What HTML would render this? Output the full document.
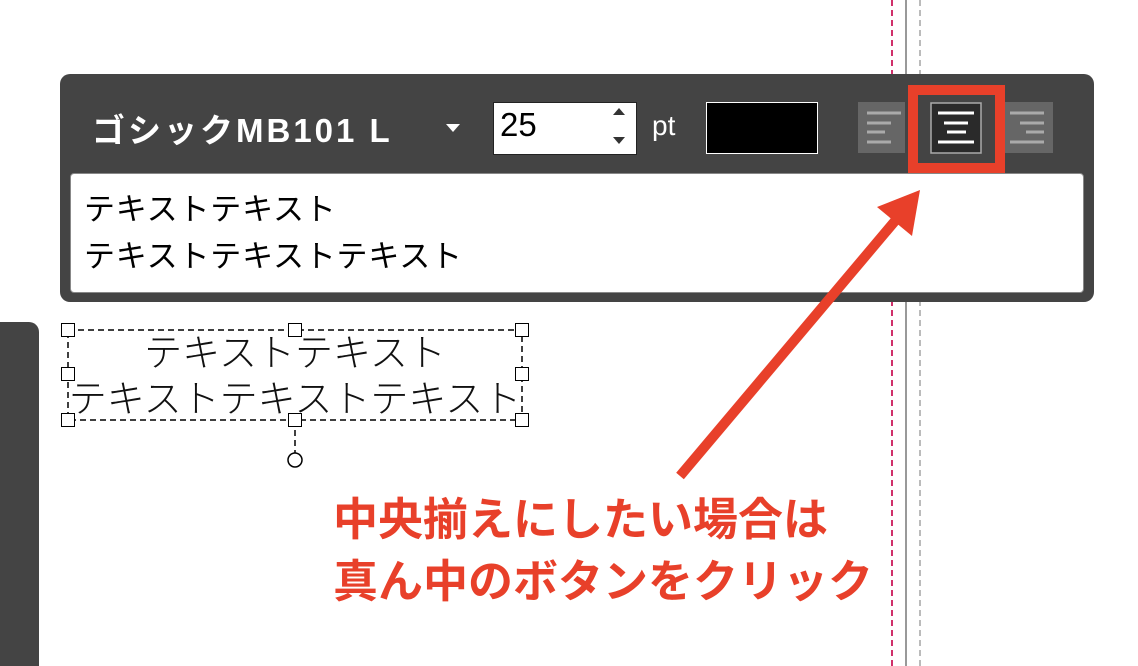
<!DOCTYPE html>
<html><head><meta charset="utf-8"><style>
body{margin:0;width:1138px;height:666px;background:#fff;position:relative;overflow:hidden;font-family:"Liberation Sans","Noto Sans CJK JP",sans-serif}
.a{position:absolute}
.h{position:absolute;width:12px;height:12px;border:1.5px solid #000;background:#fff}
</style></head><body>
<div class="a" style="left:891px;top:0;height:666px;border-left:2px dashed #d0306a"></div>
<div class="a" style="left:905px;top:0;height:666px;border-left:2px solid #999"></div>
<div class="a" style="left:919px;top:0;height:666px;border-left:2px dashed #bbb"></div>
<div class="a" style="left:0;top:322px;width:39px;height:344px;background:#444;border-radius:0 10px 0 0"></div>
<div class="a" style="left:60px;top:74px;width:1034px;height:228px;background:#444;border-radius:10px"></div>
<div class="a" style="left:92px;top:104px;color:#fff;font-size:33px;font-weight:bold;letter-spacing:3px">ゴシックMB101 L</div>
<div class="a" style="left:446px;top:124px;width:0;height:0;border-left:7px solid transparent;border-right:7px solid transparent;border-top:8px solid #fff"></div>
<div class="a" style="left:493px;top:102px;width:142px;height:51px;background:#fff;border:1px solid #222"></div>
<div class="a" style="left:500px;top:106px;font-size:33px;color:#000">25</div>
<div class="a" style="left:613px;top:108px;width:0;height:0;border-left:6px solid transparent;border-right:6px solid transparent;border-bottom:7px solid #333"></div>
<div class="a" style="left:613px;top:137px;width:0;height:0;border-left:6px solid transparent;border-right:6px solid transparent;border-top:7px solid #333"></div>
<div class="a" style="left:652px;top:110px;color:#fff;font-size:28px">pt</div>
<div class="a" style="left:706px;top:102px;width:110px;height:50px;background:#000;border:1px solid #fff"></div>
<svg class="a" style="left:0;top:0" width="1138" height="666">
<rect x="858" y="102" width="47" height="51" fill="#666"/>
<g stroke="#aaa" stroke-width="3"><line x1="867" y1="113" x2="901" y2="113"/><line x1="867" y1="123" x2="891" y2="123"/><line x1="867" y1="132" x2="885" y2="132"/><line x1="867" y1="142" x2="891" y2="142"/></g>
<rect x="1003" y="102" width="50" height="51" fill="#666"/>
<g stroke="#aaa" stroke-width="3"><line x1="1010" y1="113" x2="1044" y2="113"/><line x1="1020" y1="123" x2="1044" y2="123"/><line x1="1026" y1="132" x2="1044" y2="132"/><line x1="1010" y1="142" x2="1044" y2="142"/></g>
<rect x="931" y="103" width="50" height="50" fill="#2a2a2a" stroke="#aaa" stroke-width="1.5"/>
<g stroke="#fff" stroke-width="3"><line x1="938" y1="113" x2="974" y2="113"/><line x1="944" y1="123" x2="968" y2="123"/><line x1="947" y1="132" x2="966" y2="132"/><line x1="938" y1="142" x2="974" y2="142"/></g>
<rect x="913" y="90" width="87" height="78" fill="none" stroke="#e8402a" stroke-width="10"/>
<rect x="68" y="330" width="454" height="90" fill="none" stroke="#000" stroke-width="1.5" stroke-dasharray="6,4"/>
<line x1="295" y1="420" x2="295" y2="453" stroke="#000" stroke-width="1.5" stroke-dasharray="6,4"/>
<circle cx="295" cy="460" r="7" fill="#fff" stroke="#000" stroke-width="1.5"/>
</svg>
<div class="a" style="left:70px;top:173px;width:1012px;height:118px;background:#fff;border-radius:4px;border:1px solid #888"></div>
<div class="a" style="left:84px;top:186px;font-size:31px;line-height:47px;letter-spacing:0.8px;color:#000">テキストテキスト<br>テキストテキストテキスト</div>
<div class="a" style="left:40px;top:331px;width:510px;text-align:center;font-size:38px;line-height:46px;font-weight:300;color:#111">テキストテキスト<br>テキストテキストテキスト</div>
<div class="h" style="left:61px;top:323px"></div><div class="h" style="left:288px;top:323px"></div><div class="h" style="left:515px;top:323px"></div>
<div class="h" style="left:61px;top:367px"></div><div class="h" style="left:515px;top:367px"></div>
<div class="h" style="left:61px;top:413px"></div><div class="h" style="left:288px;top:413px"></div><div class="h" style="left:515px;top:413px"></div>
<div class="a" style="left:333px;top:489px;font-size:45px;line-height:62px;font-weight:bold;color:#e8402a">中央揃えにしたい場合は<br>真ん中のボタンをクリック</div>
<svg class="a" style="left:0;top:0" width="1138" height="666">
<line x1="680" y1="476" x2="895" y2="221" stroke="#e8402a" stroke-width="10"/>
<polygon points="920,190 912,236 877,207" fill="#e8402a"/>
</svg>
</body></html>
